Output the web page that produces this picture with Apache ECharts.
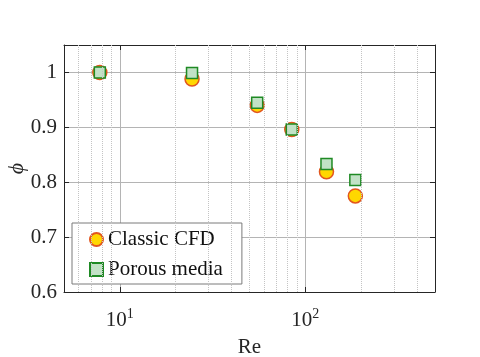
<!DOCTYPE html>
<html>
<head>
<meta charset="utf-8">
<script src="https://cdn.jsdelivr.net/npm/echarts@6/dist/echarts.min.js"></script>
<style>
  html, body { margin: 0; padding: 0; background: #fff; }
  #main { width: 480px; height: 357px; }
</style>
</head>
<body>
<div id="main"></div>
<script>
// Reynolds numbers of the cases (same for both methods)
var re = [7.8, 24.5, 55, 84.5, 130, 186];
var phiClassic = [1.0, 0.988, 0.94, 0.896, 0.819, 0.775];
var phiPorous = [1.0, 0.999, 0.945, 0.896, 0.833, 0.804];
// minor grid positions on the log axis
var minorRe = [6, 7, 8, 9, 20, 30, 40, 50, 60, 70, 80, 90, 200, 300, 400];
var yTicks = [0.6, 0.7, 0.8, 0.9, 1];

var font = 'Liberation Serif, Times New Roman, serif';

function pairs(xs, ys) {
  return xs.map(function (x, i) { return [x, ys[i]]; });
}

function logLabel(v) {
  var e = Math.log10(v);
  if (Math.abs(e - Math.round(e)) > 1e-6) return '';
  return '{b|10}{s|' + Math.round(e) + '}';
}

function yLabel(v) {
  for (var i = 0; i < yTicks.length; i++) {
    if (Math.abs(v - yTicks[i]) < 1e-6) return String(yTicks[i]);
  }
  return '';
}

var chart = echarts.init(document.getElementById('main'));
var option = {
  animation: false,
  backgroundColor: '#fff',
  grid: { left: 64, top: 45, right: 45, bottom: 65, containLabel: false, outerBoundsMode: 'none' },
  xAxis: [{
    type: 'log', logBase: 10, min: 5, max: 500,
    name: 'Re', nameLocation: 'middle', nameGap: 45, nameMoveOverlap: false,
    nameTextStyle: { fontFamily: font, fontSize: 21, color: '#262626' },
    axisLine: { lineStyle: { color: '#262626', width: 1 } },
    axisTick: { inside: true, length: 5, lineStyle: { color: '#262626' } },
    axisLabel: {
      margin: 15, formatter: logLabel,
      rich: {
        b: { fontFamily: font, fontSize: 21, color: '#262626' },
        s: { fontFamily: font, fontSize: 14, color: '#262626', verticalAlign: 'top', padding: [0, 0, 12, 0] }
      }
    },
    splitLine: { show: true, lineStyle: { color: '#b4b4b4', width: 1 } }
  }, {
    type: 'log', logBase: 10, min: 5, max: 500, position: 'top',
    axisLine: { lineStyle: { color: '#262626', width: 1 } },
    axisTick: { inside: true, length: 5, lineStyle: { color: '#262626' } },
    axisLabel: { show: false },
    splitLine: { show: false }
  }],
  yAxis: [{
    type: 'value', min: 0.6, max: 1.05, interval: 0.1,
    name: '\u03D5', nameLocation: 'middle', nameGap: 36, nameRotate: 90, nameMoveOverlap: false,
    nameTextStyle: { fontFamily: font, fontSize: 22, fontStyle: 'italic', color: '#262626' },
    axisLine: { show: true, lineStyle: { color: '#262626', width: 1 } },
    axisTick: { show: true, inside: true, length: 5, lineStyle: { color: '#262626' } },
    axisLabel: { margin: 7, formatter: yLabel, fontFamily: font, fontSize: 21, color: '#262626' },
    splitLine: { show: true, lineStyle: { color: '#b4b4b4', width: 1 } }
  }, {
    type: 'value', min: 0.6, max: 1.05, interval: 0.1, position: 'right',
    axisLine: { show: true, lineStyle: { color: '#262626', width: 1 } },
    axisTick: { show: true, inside: true, length: 5, lineStyle: { color: '#262626' } },
    axisLabel: { show: false },
    splitLine: { show: false }
  }],
  legend: {
    left: 72, top: 223, orient: 'vertical',
    data: ['Classic CFD', 'Porous media'],
    itemWidth: 13, itemHeight: 13, itemGap: 9,
    padding: [6, 19, 4, 17],
    borderColor: '#7a7a7a', borderWidth: 1, backgroundColor: '#fff',
    textStyle: { fontFamily: font, fontSize: 21, color: '#111', lineHeight: 20 }
  },
  series: [{
    name: 'minor', type: 'scatter', data: [], z: 1, silent: true,
    markLine: {
      silent: true, symbol: 'none', label: { show: false },
      lineStyle: { type: 'dotted', color: '#c4c4c4', width: 1 },
      data: minorRe.map(function (v) { return { xAxis: v }; })
    }
  }, {
    name: 'Classic CFD', type: 'scatter', symbol: 'circle', symbolSize: 14, z: 3,
    itemStyle: { color: '#ffd700', borderColor: '#e2561e', borderWidth: 1.5, opacity: 1 },
    data: pairs(re, phiClassic)
  }, {
    name: 'Porous media', type: 'scatter', symbol: 'rect', symbolSize: 11, z: 4,
    itemStyle: { color: '#c2e2c6', borderColor: '#1f8a24', borderWidth: 1.5, opacity: 1 },
    data: pairs(re, phiPorous)
  }]
};
chart.setOption(option);
</script>
</body>
</html>
